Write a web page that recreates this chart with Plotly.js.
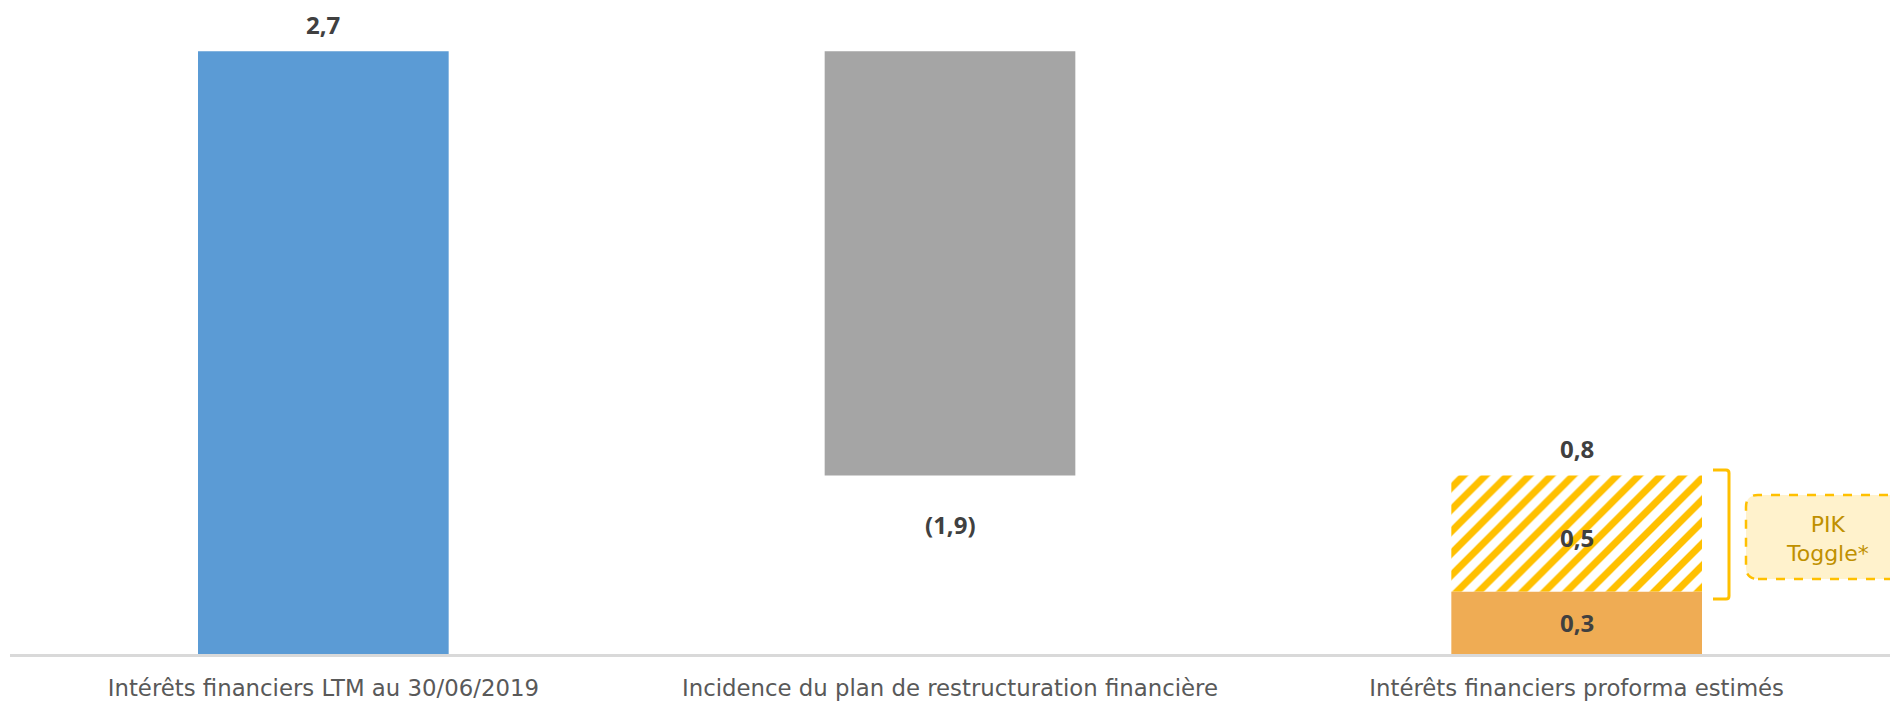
<!DOCTYPE html>
<html>
<head>
<meta charset="utf-8">
<script src="https://cdn.plot.ly/plotly-3.0.1.min.js"></script>
<style>
  html, body { margin: 0; padding: 0; background: #ffffff; }
  #chart { width: 1890px; height: 702px; }
</style>
</head>
<body>
<div id="chart"></div>
<script>
// ---- Data ----
const categories = [
  "Intérêts financiers LTM au 30/06/2019",
  "Incidence du plan de restructuration financière",
  "Intérêts financiers proforma estimés"
];
const ltmInterest = 2.7;          // Intérêts financiers LTM
const restructuringImpact = -1.9; // Incidence du plan
const proformaCash = 0.28;        // part payée (0,3)
const proformaPik = 0.52;         // PIK Toggle (0,5)
const pikLabel = "PIK<br>Toggle*";

// ---- Helpers ----
function fmt(v) {
  const s = Math.abs(v).toFixed(1).replace('.', ',');
  return v < 0 ? '(' + s + ')' : s;
}

const afterImpact = ltmInterest + restructuringImpact;
const proformaTotal = proformaCash + proformaPik;

const traces = [
  { type: 'bar', x: [categories[0]], y: [ltmInterest], base: [0],
    marker: { color: '#5B9BD5' }, hoverinfo: 'skip' },
  { type: 'bar', x: [categories[1]], y: [-restructuringImpact], base: [afterImpact],
    marker: { color: '#A5A5A5' }, hoverinfo: 'skip' },
  { type: 'bar', x: [categories[2]], y: [proformaCash], base: [0],
    marker: { color: '#EFAC54' }, hoverinfo: 'skip' },
  { type: 'bar', x: [categories[2]], y: [proformaPik], base: [proformaCash],
    marker: { color: '#FFFFFF',
      pattern: { shape: '/', fgcolor: '#FFC000', bgcolor: '#FFFFFF', size: 15.5, solidity: 0.45 } },
    hoverinfo: 'skip' }
];

const labelFont = { family: 'Open Sans', size: 24, color: '#404040', weight: 700 };
const annotations = [
  { x: categories[0], y: ltmInterest, text: fmt(ltmInterest), yshift: 27 },
  { x: categories[1], y: afterImpact, text: fmt(restructuringImpact), yshift: -49 },
  { x: categories[2], y: proformaTotal, text: fmt(proformaTotal), yshift: 27 },
  { x: categories[2], y: proformaCash + proformaPik / 2, text: fmt(proformaPik), yshift: -4 },
  { x: categories[2], y: proformaCash / 2, text: fmt(proformaCash), yshift: 0 }
].map(a => Object.assign({ xref: 'x', yref: 'y', showarrow: false, yanchor: 'middle',
  xanchor: 'center', font: labelFont }, a));

annotations.push({
  xref: 'paper', yref: 'paper', x: 0.9665, y: 0.176, text: pikLabel, showarrow: false,
  xanchor: 'center', yanchor: 'middle', align: 'center',
  font: { family: 'DejaVu Sans', size: 22, color: '#BF9000' }
});

// Rounded dashed PIK box (pixel units relative to plot's bottom-left)
const bx = 1736, by = 75, bw = 170, bh = 84, r = 12;
const boxPath = `M ${bx + r},${by} L ${bx + bw},${by} L ${bx + bw},${by + bh} L ${bx + r},${by + bh} ` +
  `Q ${bx},${by + bh} ${bx},${by + bh - r} L ${bx},${by + r} Q ${bx},${by} ${bx + r},${by} Z`;
// Bracket
const brPath = `M 1703,184 L 1716,184 Q 1719,184 1719,181 L 1719,58 Q 1719,55 1716,55 L 1703,55`;

const shapes = [
  { type: 'path', xref: 'paper', yref: 'paper', xsizemode: 'pixel', ysizemode: 'pixel',
    xanchor: 0, yanchor: 0, path: boxPath, fillcolor: '#FFF2CC',
    line: { color: '#FFC000', width: 2.5, dash: 'dash' }, layer: 'above' },
  { type: 'path', xref: 'paper', yref: 'paper', xsizemode: 'pixel', ysizemode: 'pixel',
    xanchor: 0, yanchor: 0, path: brPath,
    line: { color: '#FFC000', width: 3 }, layer: 'above' }
];

const layout = {
  width: 1890, height: 702,
  margin: { l: 10, r: 0, t: 0, b: 48 },
  paper_bgcolor: '#FFFFFF', plot_bgcolor: '#FFFFFF',
  barmode: 'overlay', bargap: 0.6,
  showlegend: false,
  separators: ', ',
  xaxis: {
    type: 'category', showgrid: false, zeroline: false,
    showline: true, linecolor: '#D9D9D9', linewidth: 3,
    ticks: '', ticklabelstandoff: 12, automargin: false,
    tickfont: { family: 'DejaVu Sans', size: 22.8, color: '#595959' },
    fixedrange: true
  },
  yaxis: {
    range: [0, 2.93], visible: false, showgrid: false, zeroline: false, fixedrange: true
  },
  annotations: annotations,
  shapes: shapes
};

Plotly.newPlot('chart', traces, layout, { displayModeBar: false, staticPlot: true });
</script>
</body>
</html>
